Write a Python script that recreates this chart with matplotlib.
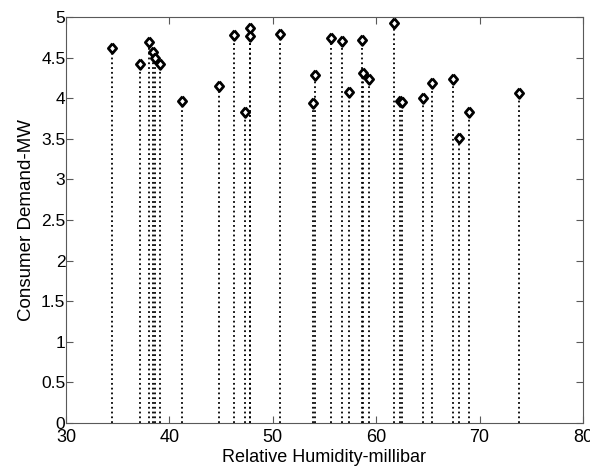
import matplotlib
matplotlib.use("Agg")
from matplotlib import pyplot as plt

# relative humidity (millibar) and consumer demand (MW)
humidity = [34.4, 37.15, 38.05, 38.37, 38.63, 39.08, 41.18, 44.81, 46.27,
            47.3, 47.75, 47.78, 50.71, 53.93, 54.09, 55.67, 56.67, 57.37,
            58.63, 58.76, 59.3, 61.72, 62.35, 62.5, 64.5, 65.4, 67.42,
            67.97, 68.97, 73.8]
demand = [4.62, 4.42, 4.69, 4.57, 4.50, 4.42, 3.97, 4.15, 4.78,
          3.83, 4.87, 4.76, 4.79, 3.94, 4.29, 4.74, 4.70, 4.08,
          4.72, 4.31, 4.24, 4.93, 3.97, 3.95, 4.00, 4.19, 4.24,
          3.51, 3.83, 4.07]

x_ticks = [30, 40, 50, 60, 70, 80]
y_ticks = [0, 0.5, 1, 1.5, 2, 2.5, 3, 3.5, 4, 4.5, 5]
y_tick_labels = ["0", "0.5", "1", "1.5", "2", "2.5", "3", "3.5", "4", "4.5", "5"]

plt.rcParams['font.family'] = ['Liberation Sans', 'DejaVu Sans']

fig = plt.figure(figsize=(5.9, 4.66), dpi=100)
ax = fig.add_axes([0.112, 0.0923, 0.876, 0.8712])

# matlab-like diamond, a bit taller than wide
diamond = [(0, 1), (0.85, 0), (0, -1), (-0.85, 0), (0, 1)]

markerline, stemlines, baseline = ax.stem(humidity, demand, linefmt='k:',
                                          markerfmt='k', basefmt=' ')
stemlines.set_linewidth(1.3)
markerline.set_marker(diamond)
markerline.set_linestyle('none')
markerline.set_markerfacecolor('white')
markerline.set_markeredgecolor('black')
markerline.set_markeredgewidth(2.0)
markerline.set_markersize(7)

ax.set_xlim(30, 80)
ax.set_ylim(0, 5)
ax.set_xticks(x_ticks)
ax.set_yticks(y_ticks)
ax.set_yticklabels(y_tick_labels)
ax.tick_params(direction='in', length=5, top=True, right=True,
               labelsize=12.5, color='0.35')
ax.tick_params(axis='x', pad=4.5, labelsize=13)
ax.tick_params(axis='y', pad=0.5)
for s in ax.spines.values():
    s.set_color('0.35')
    s.set_linewidth(0.8)

ax.set_xlabel("Relative Humidity-millibar", fontsize=13, labelpad=2)
ax.set_ylabel("Consumer Demand-MW", fontsize=13.5, labelpad=4)

fig.savefig("out.png", dpi=100)
